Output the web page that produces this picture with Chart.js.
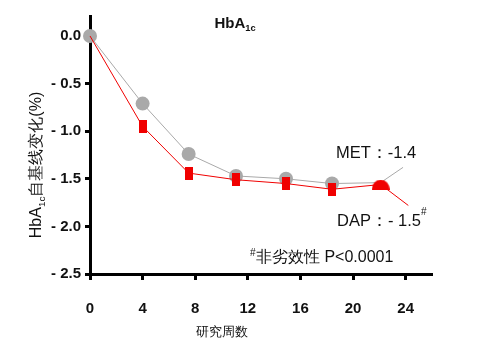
<!DOCTYPE html>
<html>
<head>
<meta charset="utf-8">
<script src="https://cdn.jsdelivr.net/npm/chart.js@4"></script>
<style>
html,body{margin:0;padding:0;background:#fff;}
#wrap{width:495px;height:342px;position:relative;}
</style>
</head>
<body>
<div id="wrap"><canvas id="hba1c" width="495" height="342"></canvas></div>
<script>
// weeks
const weeks = [0, 4, 7.5, 11.1, 14.9, 18.4, 22.1];
const metValues = [0, -0.71, -1.24, -1.47, -1.50, -1.55, -1.54];
const dapValues = [0, -0.95, -1.44, -1.51, -1.55, -1.61, -1.56];
const metLeader = [[22.1, -1.54], [23.8, -1.38]];
const dapLeader = [[22.1, -1.56], [24.2, -1.78]];
const xTicks = [0, 4, 8, 12, 16, 20, 24];
const yTicks = [0, -0.5, -1.0, -1.5, -2.0, -2.5];

const RED = '#f00000';
const GREY = '#a9a9a9';

function mkCanvas(w, h, draw) {
  const c = document.createElement('canvas');
  c.width = w; c.height = h;
  draw(c.getContext('2d'));
  return c;
}
const redRect = mkCanvas(8, 13, g => { g.fillStyle = RED; g.fillRect(0, 0, 8, 13); });
const redHalf = mkCanvas(18, 10, g => {
  g.fillStyle = RED;
  g.beginPath();
  g.ellipse(9, 10, 9, 10, 0, Math.PI, 2 * Math.PI);
  g.closePath();
  g.fill();
});

const pts = (xs, ys) => xs.map((x, i) => ({x: x, y: ys[i]}));
const lead = arr => arr.map(p => ({x: p[0], y: p[1]}));

// text with a subscript part
function drawParts(ctx, parts, x, y, size, weight, align) {
  let w = 0;
  parts.forEach(p => {
    ctx.font = weight + ' ' + (p.sub ? size * 0.62 : size) + 'px "Liberation Sans", Arial, sans-serif';
    w += ctx.measureText(p.t).width;
  });
  let cx = align === 'center' ? x - w / 2 : x;
  ctx.textAlign = 'left';
  ctx.textBaseline = 'alphabetic';
  parts.forEach(p => {
    const s = p.sub ? size * 0.62 : size;
    ctx.font = weight + ' ' + s + 'px "Liberation Sans", Arial, sans-serif';
    ctx.fillText(p.t, cx, p.sub ? y + size * 0.22 : y);
    cx += ctx.measureText(p.t).width;
  });
}

const labelsPlugin = {
  id: 'labels',
  afterDraw(chart) {
    const ctx = chart.ctx;
    ctx.save();
    ctx.fillStyle = '#111';
    drawParts(ctx, [{t: 'HbA'}, {t: '1c', sub: true}], 235, 28, 15, 'bold', 'center');

    ctx.save();
    ctx.translate(41, 165);
    ctx.rotate(-Math.PI / 2);
    drawParts(ctx, [{t: 'HbA'}, {t: '1c', sub: true}, {t: '自基线变化(%)'}], 0, 0, 16, 'normal', 'center');
    ctx.restore();

    drawParts(ctx, [{t: 'MET：-1.4'}], 336, 158, 16.5, 'normal', 'left');
    drawParts(ctx, [{t: 'DAP：- 1.5'}], 337, 226, 16.5, 'normal', 'left');
    ctx.font = '10px "Liberation Sans", Arial, sans-serif';
    ctx.fillText('#', 421, 215);
    ctx.fillText('#', 250, 256);
    drawParts(ctx, [{t: '非劣效性 P<0.0001'}], 256, 262, 16, 'normal', 'left');
    drawParts(ctx, [{t: '研究周数'}], 222, 336, 13, 'normal', 'center');
    ctx.restore();
  }
};

const tickFont = {family: '"Liberation Sans Narrow", "Arial Narrow", Arial, sans-serif', size: 15, weight: 'bold'};

new Chart(document.getElementById('hba1c').getContext('2d'), {
  type: 'scatter',
  data: {
    datasets: [
      {
        label: 'MET leader', data: lead(metLeader), showLine: true,
        borderColor: GREY, borderWidth: 1, pointRadius: 0, clip: false, order: 4
      },
      {
        label: 'DAP leader', data: lead(dapLeader), showLine: true,
        borderColor: RED, borderWidth: 1, pointRadius: 0, clip: false, order: 3
      },
      {
        label: 'MET', data: pts(weeks, metValues), showLine: true,
        borderColor: GREY, borderWidth: 1, backgroundColor: GREY,
        pointRadius: weeks.map((w, i) => i === weeks.length - 1 ? 0 : 7),
        pointBorderWidth: 0, clip: false, order: 2
      },
      {
        label: 'DAP', data: pts(weeks, dapValues), showLine: true,
        borderColor: RED, borderWidth: 1, backgroundColor: RED,
        pointStyle: weeks.map((w, i) => i === 0 ? false : (i === weeks.length - 1 ? redHalf : redRect)),
        pointRadius: 6, clip: false, order: 1
      }
    ]
  },
  options: {
    responsive: false,
    animation: false,
    layout: {padding: {left: 0, top: 16, right: 63, bottom: 0}},
    plugins: {legend: {display: false}, tooltip: {enabled: false}},
    scales: {
      x: {
        type: 'linear', min: 0, max: 26,
        afterBuildTicks: s => { s.ticks = xTicks.map(v => ({value: v})); },
        afterFit: s => { s.height = 68; },
        grid: {display: true, drawOnChartArea: false, drawTicks: true, tickLength: 6, tickWidth: 3, tickColor: '#000'},
        border: {display: true, width: 3, color: '#000'},
        ticks: {font: tickFont, color: '#111', padding: 20, maxRotation: 0}
      },
      y: {
        type: 'linear', min: -2.5, max: 0.21,
        afterBuildTicks: s => { s.ticks = yTicks.map(v => ({value: v})); },
        afterFit: s => { s.width = 90; },
        grid: {display: true, drawOnChartArea: false, drawTicks: true, tickLength: 5, tickWidth: 3, tickColor: '#000'},
        border: {display: true, width: 3, color: '#000'},
        ticks: {
          font: tickFont, color: '#111', padding: 4,
          callback: v => v === 0 ? '0.0' : '- ' + Math.abs(v).toFixed(1)
        }
      }
    }
  },
  plugins: [labelsPlugin]
});
</script>
</body>
</html>
